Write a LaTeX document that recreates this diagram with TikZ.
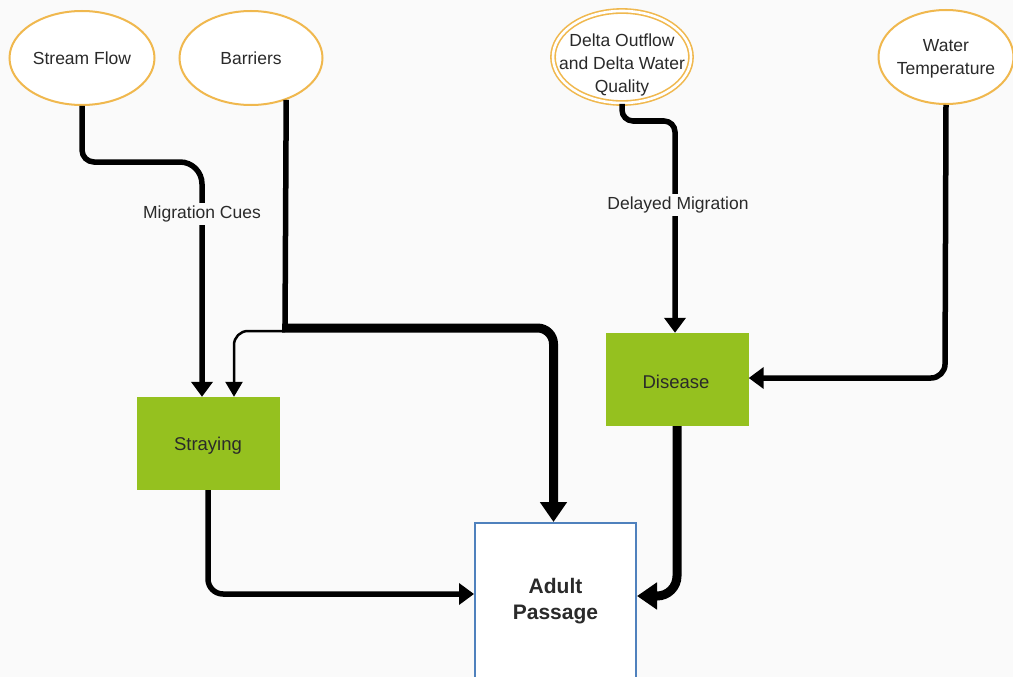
\documentclass[tikz,border=0pt]{standalone}
\usepackage{fontspec}
\setmainfont{Liberation Sans}
\usetikzlibrary{shapes.geometric,arrows.meta}
\definecolor{bg}{HTML}{FAFAFA}
\definecolor{orng}{HTML}{F0B84E}
\definecolor{grn}{HTML}{95C11F}
\definecolor{blu}{HTML}{4F81BD}
\definecolor{txt}{HTML}{2A2A2A}
\tikzset{
  oval/.style={ellipse, draw=orng, line width=2pt, fill=white, inner sep=0pt,
    minimum width=145pt, minimum height=94pt, align=center, text=txt,
    font=\fontsize{17.5}{23}\selectfont},
  ovaltext/.style={align=center, text=txt, inner sep=0pt,
    font=\fontsize{17.5}{23}\selectfont},
  gbox/.style={rectangle, fill=grn, inner sep=0pt, minimum width=143pt,
    minimum height=93pt, text=txt, font=\fontsize{18.5}{22}\selectfont},
  gtext/.style={text=txt, inner sep=0pt, font=\fontsize{18.5}{22}\selectfont},
  conn/.style={line width=5.5pt, -{Triangle[length=15pt,width=21pt]}},
  thickconn/.style={line width=9pt, -{Triangle[length=20pt,width=26pt]}},
  thinconn/.style={line width=2.5pt, -{Triangle[length=15pt,width=17pt]}},
  lbl/.style={fill=bg, inner sep=3pt, text=txt, font=\fontsize{17.5}{22}\selectfont},
}
\begin{document}
\begin{tikzpicture}[x=1pt,y=-1pt]
\useasboundingbox (0,0) rectangle (1013,677);
\clip (0,0) rectangle (1013,677);
\fill[bg] (0,0) rectangle (1013,677);

\node[oval] (sf) at (82,58) {Stream Flow};
\node[oval, minimum width=143pt] (ba) at (251,58) {Barriers};
\node[oval, draw=orng, line width=1.6pt, double=white, double distance=2.6pt,
      minimum width=138pt, minimum height=92pt] (do) at (622,57) {};
\node[ovaltext] (dotxt) at (622,65) {Delta Outflow\\and Delta Water\\Quality};
\node[oval, minimum width=135pt] (wt) at (946,57) {};
\node[ovaltext] (wttxt) at (946,59) {Water\\Temperature};

\node[gbox] (st) at (208,443.5) {};
\node[gtext] (sttxt) at (208,446) {Straying};
\node[gbox] (dis) at (677,379.5) {};
\node[gtext] (distxt) at (676,382) {Disease};
\node[rectangle, draw=blu, line width=2pt, fill=white, minimum width=161pt,
      minimum height=200pt, anchor=north, inner sep=0pt] (ap) at (555.5,522) {};
\node[align=center, text=txt, font=\bfseries\fontsize{21}{26}\selectfont] (aptxt) at (555.5,601) {Adult\\Passage};

% Stream flow -> Straying
\draw[conn, rounded corners=12pt] (sf.south) -- (82,162) [rounded corners=22pt] -- (202,162) -- ([xshift=-6pt]st.north);
\node[lbl] (mc) at (202,214) {Migration Cues};

% Barriers
\coordinate (split) at (285,328);
\draw[line width=5.5pt] (ba.-50) -- (split |- 0,331);
\draw[thickconn, rounded corners=16pt] ([xshift=-3pt]split) -- (553.5,328) -- (ap.north -| 553.5,0);
\draw[thinconn, rounded corners=14pt] (split |- 0,331) -- (234,331) -- ([xshift=26pt]st.north);

% Straying -> Adult Passage
\draw[conn, rounded corners=15pt] (st.south) -- (208,594) -- (ap.west |- 0,594);

% Delta outflow -> Disease
\draw[conn, rounded corners=11pt] (do.south) -- (622,121) -- (675,121) -- ([xshift=-2pt]dis.north);
\node[lbl] (dm) at (678,205) {Delayed Migration};

% Water temperature -> Disease
\draw[conn, rounded corners=14pt] (wt.south) -- (945,378) -- (dis.east |- 0,378);

% Disease -> Adult Passage
\draw[thickconn, rounded corners=20pt] (dis.south) -- (677,596) -- (ap.east |- 0,596);
\end{tikzpicture}
\end{document}
